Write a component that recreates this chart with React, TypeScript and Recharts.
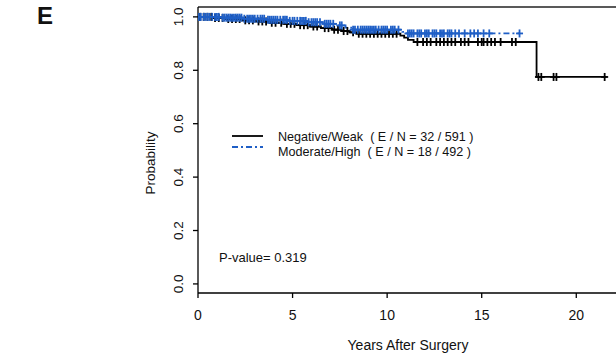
import { ComposedChart, Line, Scatter, XAxis, YAxis, ReferenceLine } from "recharts"

// Kaplan-Meier steps: [years, survival]
const negWeakSteps: [number, number][] = [
  [0, 1], [0.8, 0.996], [1.5, 0.992], [2.3, 0.987], [3.0, 0.983], [3.8, 0.978],
  [4.5, 0.974], [5.2, 0.969], [5.9, 0.964], [6.5, 0.958], [7.1, 0.952], [7.6, 0.947],
  [8.0, 0.942], [8.4, 0.937], [10.7, 0.93], [10.9, 0.922], [11.1, 0.914], [11.4, 0.906],
  [17.9, 0.775], [21.6, 0.775],
]
const modHighSteps: [number, number][] = [
  [0, 1], [1.2, 0.997], [2.4, 0.993], [3.6, 0.989], [4.8, 0.985], [5.8, 0.98],
  [6.6, 0.974], [7.3, 0.968], [7.8, 0.96], [8.1, 0.952], [10.8, 0.944], [11.0, 0.938],
  [17.0, 0.938],
]

// censored follow-up times (the "+" marks)
const negWeakCensor = [
  0.1, 0.3, 0.5, 0.7, 0.9, 1.1, 1.3, 1.6, 1.8, 2.0, 2.2, 2.5, 2.7, 2.9, 3.2, 3.4, 3.6,
  3.9, 4.1, 4.4, 4.7, 4.9, 5.1, 5.4, 5.6, 5.8, 6.1, 6.3, 6.7, 6.9, 7.2, 7.4, 7.7, 7.9,
  8.2, 8.5, 8.7, 8.9, 9.1, 9.3, 9.5, 9.7, 9.9, 10.1, 10.3, 10.5, 11.6, 11.9, 12.1, 12.3,
  12.6, 12.8, 13.0, 13.2, 13.4, 13.6, 13.9, 14.1, 14.3, 14.8, 15.0, 15.1, 15.3, 15.5,
  15.7, 16.0, 16.6, 16.8, 18.0, 18.15, 18.8, 18.95, 21.5,
]
const modHighCensor = [
  0.05, 0.15, 0.3, 0.4, 0.5, 0.6, 0.75, 0.9, 1.0, 1.1, 1.3, 1.4, 1.5, 1.6, 1.7, 1.8, 1.9,
  2.0, 2.1, 2.2, 2.3, 2.45, 2.6, 2.7, 2.8, 2.9, 3.0, 3.15, 3.3, 3.4, 3.5, 3.7, 3.8, 3.9,
  4.0, 4.1, 4.2, 4.35, 4.5, 4.6, 4.7, 4.85, 5.0, 5.1, 5.25, 5.4, 5.5, 5.6, 5.7, 5.85, 6.0,
  6.1, 6.2, 6.3, 6.45, 6.7, 6.8, 6.9, 7.0, 7.15, 7.5, 7.6, 8.2, 8.3, 8.45, 8.6, 8.7, 8.8,
  8.9, 9.0, 9.1, 9.2, 9.3, 9.4, 9.55, 9.7, 9.8, 9.9, 10.0, 10.2, 10.3, 10.4, 10.6, 11.1,
  11.2, 11.3, 11.4, 11.6, 11.7, 11.8, 12.0, 12.1, 12.2, 12.4, 12.5, 12.6, 12.8, 12.9, 13.0,
  13.2, 13.3, 13.4, 13.6, 13.8, 14.1, 14.4, 14.6, 14.8, 15.1, 15.4, 17.0,
]

const xTicks = [0, 5, 10, 15, 20]
const yTicks = [0, 0.2, 0.4, 0.6, 0.8, 1.0]

const BLUE = "#1f5fc6"
const FONT = "'Liberation Sans', Arial, sans-serif"
const X_MAX = 22.1
const Y_MIN = -0.034
const Y_MAX = 1.037

const toRows = (steps: [number, number][]) => steps.map(([t, s]) => ({ t, s }))

// survival at a censoring time = value of the step in force then
const survAt = (steps: [number, number][], t: number) => {
  let s = 1
  for (const [st, sv] of steps) if (st <= t) s = sv
  return s
}
const censorRows = (times: number[], steps: [number, number][]) =>
  times.map((t) => ({ t, s: survAt(steps, t) }))

const Plus = (color: string) => (props: any) => {
  const { cx, cy } = props
  if (cx == null || cy == null) return <g />
  return (
    <g stroke={color} strokeWidth={1.8}>
      <line x1={cx - 3.5} x2={cx + 3.5} y1={cy} y2={cy} />
      <line x1={cx} x2={cx} y1={cy - 4} y2={cy + 4} />
    </g>
  )
}

const YTick = (props: any) => {
  const { x, y, payload } = props
  return (
    <text
      x={x}
      y={y}
      transform={`rotate(-90 ${x} ${y})`}
      textAnchor="middle"
      fontSize={13.5}
      fontFamily={FONT}
      fill="#111"
    >
      {payload.value.toFixed(1)}
    </text>
  )
}

export default function App() {
  return (
    <div style={{ position: "absolute", left: 0, top: 0, width: 616, height: 355, background: "#fff", overflow: "hidden", fontFamily: FONT }}>
      <ComposedChart width={616} height={355} margin={{ top: 7, right: 0, left: 158, bottom: 32 }}>
        <XAxis
          dataKey="t"
          type="number"
          domain={[0, X_MAX]}
          ticks={xTicks}
          allowDataOverflow
          tickSize={5}
          tickMargin={12}
          height={30}
          stroke="#000"
          strokeWidth={1.3}
          tick={{ fontSize: 14, fontFamily: FONT, fill: "#111" }}
        />
        <YAxis
          type="number"
          domain={[Y_MIN, Y_MAX]}
          ticks={yTicks}
          allowDataOverflow
          width={40}
          tickSize={5}
          tickMargin={10}
          stroke="#000"
          strokeWidth={1.3}
          tick={<YTick />}
        />
        <ReferenceLine y={Y_MAX} stroke="#222" strokeWidth={1.6} ifOverflow="visible" />
        <Line
          data={toRows(negWeakSteps)}
          dataKey="s"
          type="stepAfter"
          stroke="#000"
          strokeWidth={1.8}
          dot={false}
          isAnimationActive={false}
        />
        <Scatter
          data={censorRows(negWeakCensor, negWeakSteps)}
          dataKey="s"
          shape={Plus("#000")}
          isAnimationActive={false}
        />
        <Line
          data={toRows(modHighSteps)}
          dataKey="s"
          type="stepAfter"
          stroke={BLUE}
          strokeWidth={1.8}
          strokeDasharray="6 3 2 3"
          dot={false}
          isAnimationActive={false}
        />
        <Scatter
          data={censorRows(modHighCensor, modHighSteps)}
          dataKey="s"
          shape={Plus(BLUE)}
          isAnimationActive={false}
        />
      </ComposedChart>

      <div style={{ position: "absolute", left: 37, top: 2, fontSize: 24, fontWeight: "bold", color: "#111", lineHeight: "28px" }}>E</div>

      <div
        style={{
          position: "absolute", left: 150, top: 163, fontSize: 13.5, color: "#111",
          transform: "translate(-50%, -50%) rotate(-90deg)", whiteSpace: "nowrap",
        }}
      >
        Probability
      </div>

      <div style={{ position: "absolute", left: 408, top: 345, fontSize: 14, color: "#111", transform: "translate(-50%, -50%)", whiteSpace: "nowrap" }}>
        Years After Surgery
      </div>

      <svg style={{ position: "absolute", left: 0, top: 0 }} width={616} height={355}>
        <line x1={232} x2={263} y1={136} y2={136} stroke="#000" strokeWidth={1.8} />
        <line x1={232} x2={263} y1={147} y2={147} stroke={BLUE} strokeWidth={1.8} strokeDasharray="6 3 2 3" />
        <text x={278} y={141} fontSize={12.6} fontFamily={FONT} fill="#111" style={{ whiteSpace: "pre" }}>
          {"Negative/Weak  ( E / N = 32 / 591 )"}
        </text>
        <text x={278} y={156} fontSize={12.6} fontFamily={FONT} fill="#111" style={{ whiteSpace: "pre" }}>
          {"Moderate/High  ( E / N = 18 / 492 )"}
        </text>
        <text x={219} y={262} fontSize={13} fontFamily={FONT} fill="#111">P-value= 0.319</text>
      </svg>
    </div>
  )
}
